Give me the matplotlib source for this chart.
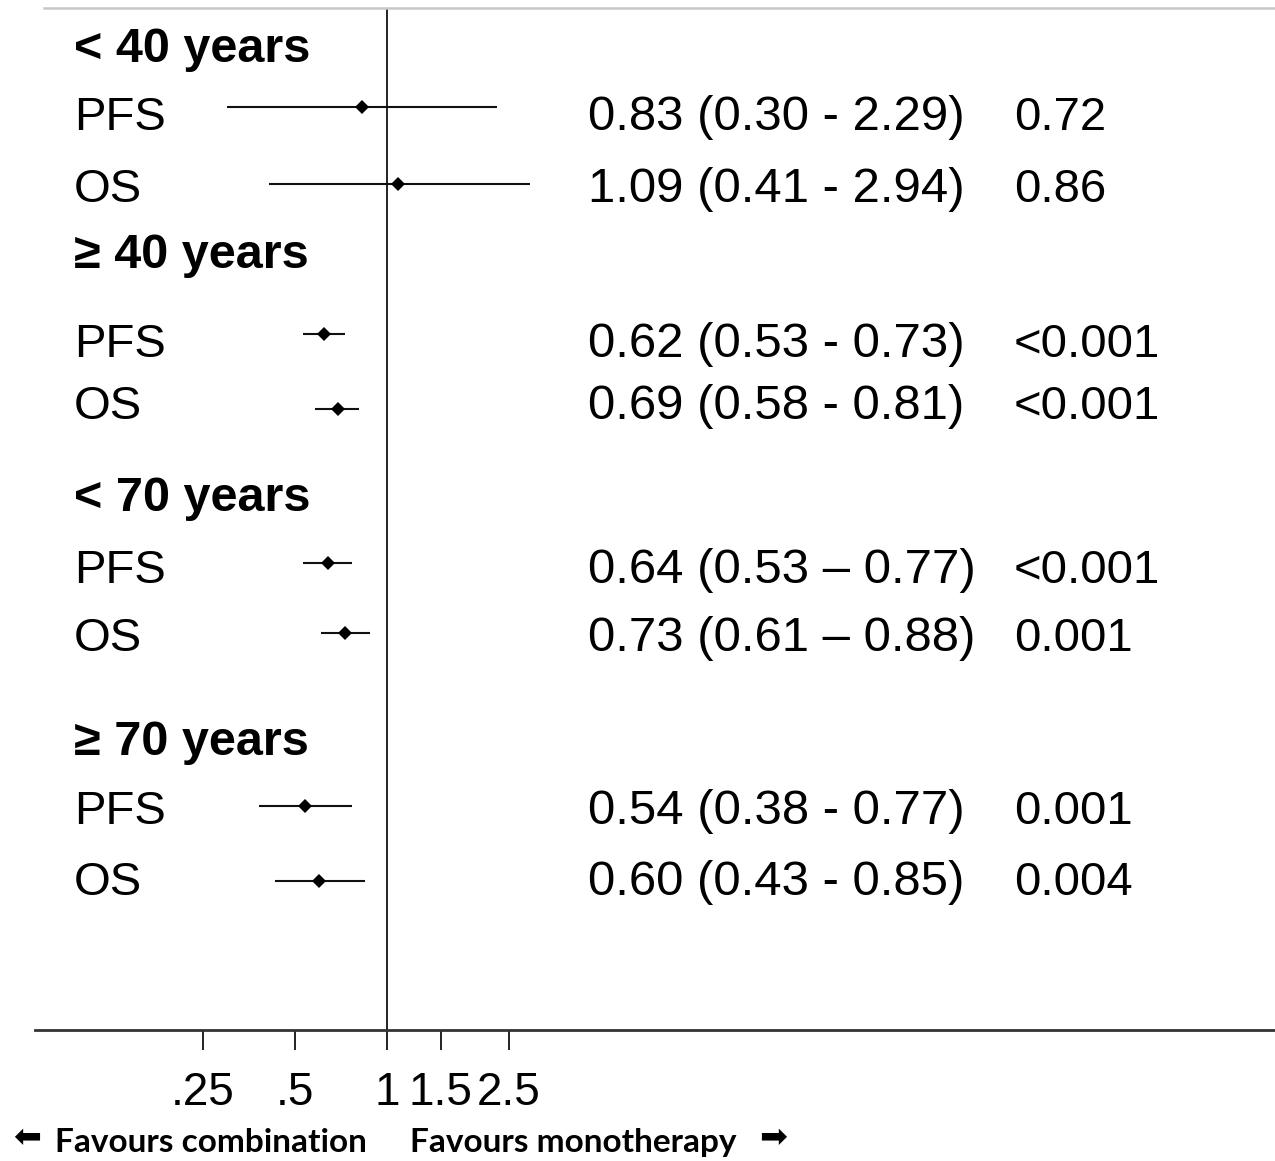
import matplotlib
matplotlib.use("Agg")
import matplotlib.pyplot as plt
import matplotlib.transforms as mtransforms
import numpy as np

# ---------------- data ----------------
groups = ['< 40 years', '≥ 40 years', '< 70 years', '≥ 70 years']
outcomes = ['PFS', 'OS', 'PFS', 'OS', 'PFS', 'OS', 'PFS', 'OS']
hr = [0.83, 1.09, 0.62, 0.69, 0.64, 0.73, 0.54, 0.60]
ci_low = [0.30, 0.41, 0.53, 0.58, 0.53, 0.61, 0.38, 0.43]
ci_high = [2.29, 2.94, 0.73, 0.81, 0.77, 0.88, 0.77, 0.85]
ci_sep = [' - ', ' - ', ' - ', ' - ', ' – ', ' – ', ' - ', ' - ']
pvals = ['0.72', '0.86', '<0.001', '<0.001', '<0.001', '0.001', '0.001', '0.004']
tick_values = [0.25, 0.5, 1, 1.5, 2.5]
tick_labels = ['.25', '.5', '1', '1.5', '2.5']

# ---------------- layout (pixel units of a 1275x1161 canvas) ----------------
W, H = 1275, 1161
row_y = [107, 184, 334, 409, 563, 633, 806, 881]          # CI line rows
text_base = [130, 202, 357, 419, 583, 651, 824, 895]      # row text baselines
head_base = [62, 268, 511, 755]                           # heading baselines
x_label, x_ci, x_p = 74, 588, 1014
ax_left, ax_right, ax_top, ax_bottom = 35, 1275, 8, 1030
x_one, px_per_doubling = 387, 92.0

def px_to_val(px):
    return 2 ** ((px - x_one) / px_per_doubling)

fig = plt.figure(figsize=(W / 100, H / 100), dpi=100)
ax = fig.add_axes([ax_left / W, 1 - ax_bottom / H,
                   (ax_right - ax_left) / W, (ax_bottom - ax_top) / H])
ax.set_xscale('log')
ax.set_xlim(px_to_val(ax_left), px_to_val(ax_right))
ax.set_ylim(ax_bottom, ax_top)

ax.patch.set_visible(False)
for s in ['left', 'right']:
    ax.spines[s].set_visible(False)
ax.spines['bottom'].set_color('#333333')
ax.spines['bottom'].set_linewidth(2.0)
ax.spines['top'].set_color('#c8c8c8')
ax.spines['top'].set_linewidth(1.8)
ax.spines['top'].set_bounds(px_to_val(44), px_to_val(ax_right))

ax.set_yticks([])
ax.set_xticks(tick_values)
ax.set_xticklabels(tick_labels)
ax.xaxis.set_minor_locator(matplotlib.ticker.NullLocator())
ax.tick_params(axis='x', direction='out', length=14.5, width=1.4,
               color='#222222', pad=15, labelsize=33)
for lab in ax.get_xticklabels():
    lab.set_family('Liberation Sans')

ax.axvline(1, color='#222222', lw=1.4)

# CI lines and point estimates
for y, h, lo, hi in zip(row_y, hr, ci_low, ci_high):
    ax.plot([lo, hi], [y, y], color='#111111', lw=1.5, solid_capstyle='butt')
    ax.plot([h], [y], marker='D', markersize=7, color='#000000',
            markeredgewidth=0)

# texts
trans = mtransforms.blended_transform_factory(fig.transFigure, ax.transData)
txt_kw = dict(family='Liberation Sans', fontsize=34, color='black',
              va='baseline', ha='left', transform=trans)

for g, yb in zip(groups, head_base):
    ax.text(x_label / W, yb, g, fontweight='bold',
            **{**txt_kw, 'fontsize': 35})

for i in range(len(hr)):
    ax.text(x_label / W, text_base[i], outcomes[i], **txt_kw)
    ci_txt = f"{hr[i]:.2f} ({ci_low[i]:.2f}{ci_sep[i]}{ci_high[i]:.2f})"
    ax.text(x_ci / W, text_base[i], ci_txt, **{**txt_kw, 'fontsize': 35.4})
    ax.text(x_p / W, text_base[i], pvals[i], **txt_kw)

# favours labels
fav_base = 1 - 1152 / H
fig.text(55 / W, fav_base, 'Favours combination', family='Lato',
         fontweight='bold', fontsize=24, va='baseline', ha='left')
fig.text(410 / W, fav_base, 'Favours monotherapy', family='Lato',
         fontweight='bold', fontsize=24, va='baseline', ha='left')
fig.text(27 / W, 1 - 1138 / H, '⬅', family='DejaVu Sans', fontsize=24,
         va='center', ha='center')
fig.text(773 / W, 1 - 1138 / H, '➡', family='DejaVu Sans', fontsize=24,
         va='center', ha='center')

fig.savefig('out.png', dpi=100, facecolor='white')
